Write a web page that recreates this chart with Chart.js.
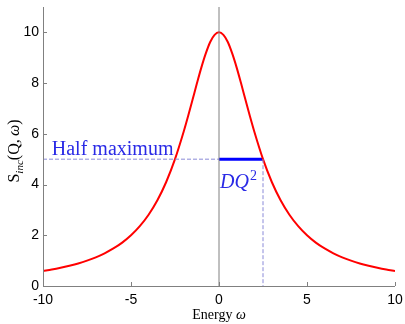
<!DOCTYPE html>
<html>
<head>
<meta charset="utf-8">
<script src="https://cdn.jsdelivr.net/npm/chart.js@4.4.1/dist/chart.umd.min.js"></script>
<style>
  html, body { margin: 0; padding: 0; background: #fff; }
  #wrap { width: 405px; height: 324px; }
</style>
</head>
<body>
<div id="wrap"><canvas id="myChart" width="405" height="324"></canvas></div>
<script>
// energy values and the scattering function read at those energies
const energy = [-10, -9.5, -9, -8.5, -8, -7.5, -7, -6.5, -6, -5.5, -5, -4.5, -4, -3.5, -3, -2.5, -2, -1.75, -1.5, -1.25, -1, -0.75, -0.5, -0.25,
    0, 0.25, 0.5, 0.75, 1, 1.25, 1.5, 1.75, 2, 2.5, 3, 3.5, 4, 4.5, 5, 5.5, 6, 6.5, 7, 7.5, 8, 8.5, 9, 9.5, 10];
const sInc = [0.59, 0.65, 0.72, 0.80, 0.89, 1.00, 1.13, 1.29, 1.48, 1.71, 2.00, 2.36, 2.81, 3.38, 4.10, 5.00, 6.10, 6.71, 7.35, 8.00, 8.62, 9.17, 9.62, 9.90,
    10.00, 9.90, 9.62, 9.17, 8.62, 8.00, 7.35, 6.71, 6.10, 5.00, 4.10, 3.38, 2.81, 2.36, 2.00, 1.71, 1.48, 1.29, 1.13, 1.00, 0.89, 0.80, 0.72, 0.65, 0.59];

const halfMax = 5;
const hwhm = 2.5;

const xTicks = [-10, -5, 0, 5, 10];
const yTicks = [0, 2, 4, 6, 8, 10];

const axisGray = '#808080';
const dashBlue = '#8a8ad8';
const noteBlue = '#2a2ae6';

const curve = energy.map((e, i) => ({ x: e, y: sInc[i] }));

// axes, inward tick marks and the text labels
const decorPlugin = {
    id: 'decor',
    afterDatasetsDraw(chart) {
        const { ctx, chartArea, scales: { x, y } } = chart;
        ctx.save();

        ctx.strokeStyle = axisGray;
        ctx.lineWidth = 1;
        ctx.beginPath();
        ctx.moveTo(chartArea.left + 0.5, chartArea.top);
        ctx.lineTo(chartArea.left + 0.5, chartArea.bottom + 0.5);
        ctx.lineTo(chartArea.right, chartArea.bottom + 0.5);
        ctx.stroke();

        ctx.beginPath();
        yTicks.forEach(v => {
            const py = Math.round(y.getPixelForValue(v)) + 0.5;
            ctx.moveTo(chartArea.left, py);
            ctx.lineTo(chartArea.left + 4, py);
        });
        xTicks.forEach(v => {
            const px = Math.round(x.getPixelForValue(v)) + 0.5;
            ctx.moveTo(px, chartArea.bottom);
            ctx.lineTo(px, chartArea.bottom - 4);
        });
        ctx.stroke();

        // half maximum note
        ctx.fillStyle = noteBlue;
        ctx.font = '20px "Liberation Serif"';
        ctx.textBaseline = 'alphabetic';
        ctx.textAlign = 'left';
        ctx.fillText('Half maximum', x.getPixelForValue(-9.5), y.getPixelForValue(halfMax) - 4);

        // DQ^2 under the blue segment
        const dqX = x.getPixelForValue(0) + 1;
        const dqY = y.getPixelForValue(halfMax) + 29;
        ctx.font = 'italic 20px "Liberation Serif"';
        ctx.fillText('DQ', dqX, dqY);
        const w = ctx.measureText('DQ').width;
        ctx.font = '14px "Liberation Serif"';
        ctx.fillText('2', dqX + w + 1, dqY - 8);

        // x axis title
        ctx.fillStyle = '#000';
        ctx.textAlign = 'left';
        const t1 = 'Energy ';
        ctx.font = 'italic 14px "Liberation Serif"';
        const wOmega = ctx.measureText('ω').width;
        ctx.font = '14px "Liberation Serif"';
        const w1 = ctx.measureText(t1).width;
        const cx = x.getPixelForValue(0);
        const startX = cx - (w1 + wOmega) / 2;
        ctx.fillText(t1, startX, 319);
        ctx.font = 'italic 14px "Liberation Serif"';
        ctx.fillText('ω', startX + w1, 319);

        // y axis title, rotated
        ctx.translate(19, 151);
        ctx.rotate(-Math.PI / 2);
        const parts = [
            { t: 'S', f: '16px "Liberation Serif"', dy: 0 },
            { t: 'inc', f: 'italic 11px "Liberation Serif"', dy: 4 },
            { t: '(Q,\u2009', f: '16px "Liberation Serif"', dy: 0 },
            { t: 'ω', f: 'italic 16px "Liberation Serif"', dy: 0 },
            { t: ')', f: '16px "Liberation Serif"', dy: 0 }
        ];
        let total = 0;
        parts.forEach(p => { ctx.font = p.f; p.w = ctx.measureText(p.t).width; total += p.w; });
        let px = -total / 2;
        parts.forEach(p => {
            ctx.font = p.f;
            ctx.fillText(p.t, px, p.dy);
            px += p.w;
        });

        ctx.restore();
    }
};

const ctx = document.getElementById('myChart').getContext('2d');
const myChart = new Chart(ctx, {
    type: 'line',
    data: {
        datasets: [
            {
                // zero energy line
                data: [{ x: 0, y: 0 }, { x: 0, y: 11 }],
                borderColor: axisGray,
                borderWidth: 1,
                pointRadius: 0
            },
            {
                data: [{ x: -10, y: halfMax }, { x: 0, y: halfMax }],
                borderColor: dashBlue,
                borderWidth: 1,
                borderDash: [4, 2],
                pointRadius: 0
            },
            {
                data: [{ x: hwhm, y: halfMax }, { x: hwhm, y: 0 }],
                borderColor: dashBlue,
                borderWidth: 1,
                borderDash: [4, 2],
                pointRadius: 0
            },
            {
                data: curve,
                borderColor: '#ff0000',
                borderWidth: 2,
                pointRadius: 0,
                cubicInterpolationMode: 'monotone'
            },
            {
                data: [{ x: 0, y: halfMax }, { x: hwhm, y: halfMax }],
                borderColor: '#0000ff',
                borderWidth: 3,
                pointRadius: 0
            }
        ]
    },
    options: {
        responsive: false,
        animation: false,
        layout: { padding: { top: 7, right: 10, left: 0, bottom: 0 } },
        plugins: {
            legend: { display: false },
            tooltip: { enabled: false }
        },
        scales: {
            x: {
                type: 'linear',
                min: -10,
                max: 10,
                afterBuildTicks: s => { s.ticks = xTicks.map(v => ({ value: v })); },
                afterFit: s => {
                    s.height = 38;
                    s.paddingLeft = 0;
                    s.paddingRight = 0;
                },
                grid: { display: false, drawTicks: false },
                border: { display: false },
                ticks: {
                    padding: 6,
                    color: '#000',
                    maxRotation: 0,
                    font: { family: 'Liberation Sans', size: 14 }
                }
            },
            y: {
                type: 'linear',
                min: 0,
                max: 11,
                afterBuildTicks: s => { s.ticks = yTicks.map(v => ({ value: v })); },
                afterFit: s => {
                    s.width = 43;
                    s.paddingTop = 0;
                    s.paddingBottom = 0;
                },
                grid: { display: false, drawTicks: false },
                border: { display: false },
                ticks: {
                    padding: 4,
                    color: '#000',
                    font: { family: 'Liberation Sans', size: 14 }
                }
            }
        }
    },
    plugins: [decorPlugin]
});
</script>
</body>
</html>
